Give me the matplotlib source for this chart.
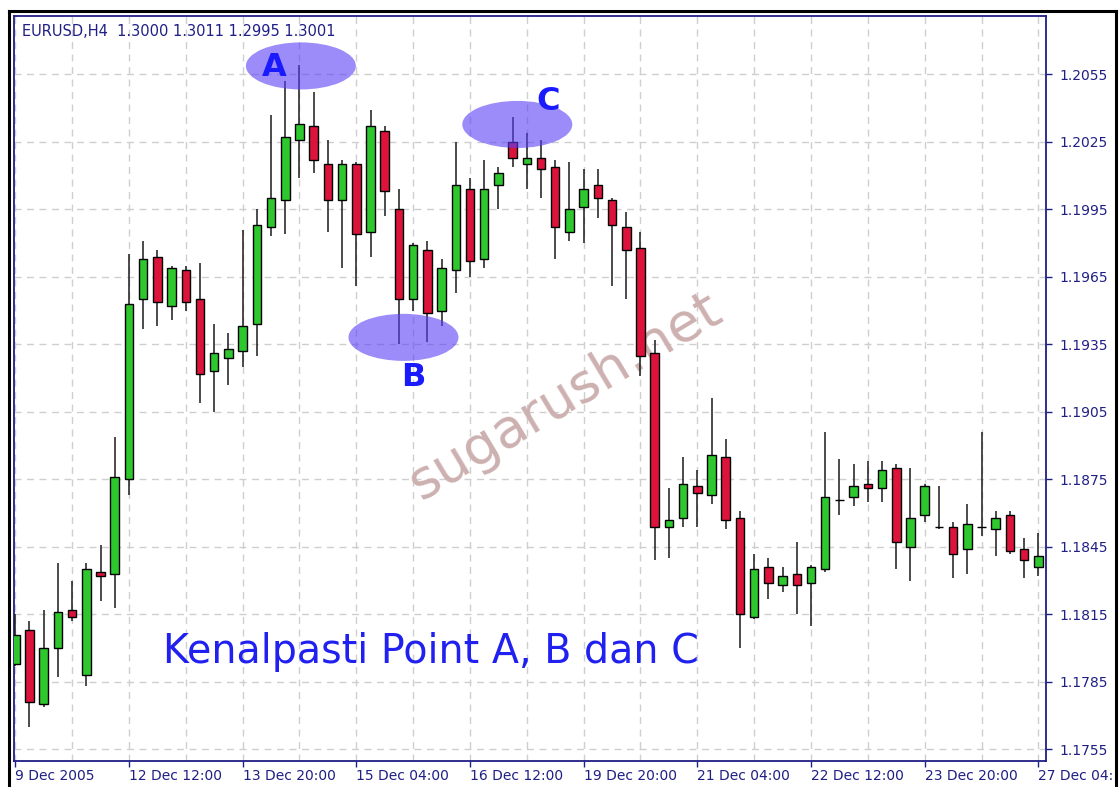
import numpy as np
import matplotlib.pyplot as plt
from matplotlib.patches import Ellipse
from matplotlib.lines import Line2D

# EURUSD H4 bars, 9 Dec - 27 Dec 2005
open_ = [1.1793, 1.1808, 1.1775, 1.1800, 1.1817, 1.1788, 1.1834, 1.1833, 1.1875, 1.1955,
         1.1974, 1.1952, 1.1968, 1.1955, 1.1923, 1.1929, 1.1932, 1.1944, 1.1987, 1.1999,
         1.2026, 1.2032, 1.2015, 1.1999, 1.2015, 1.1985, 1.2030, 1.1995, 1.1955, 1.1977,
         1.1950, 1.1968, 1.2004, 1.1973, 1.2006, 1.2025, 1.2015, 1.2018, 1.2014, 1.1985,
         1.1996, 1.2006, 1.1999, 1.1987, 1.1978, 1.1931, 1.1854, 1.1858, 1.1872, 1.1868,
         1.1885, 1.1858, 1.1814, 1.1836, 1.1828, 1.1833, 1.1829, 1.1835, 1.1866, 1.1867,
         1.1873, 1.1871, 1.1880, 1.1845, 1.1859, 1.1854, 1.1854, 1.1844, 1.1854, 1.1853,
         1.1859, 1.1844, 1.1836]
high = [1.1815, 1.1812, 1.1817, 1.1838, 1.1830, 1.1838, 1.1846, 1.1894, 1.1975, 1.1981,
        1.1977, 1.1970, 1.1970, 1.1971, 1.1944, 1.1940, 1.1986, 1.1995, 1.2037, 1.2052,
        1.2059, 1.2047, 1.2026, 1.2017, 1.2016, 1.2039, 1.2032, 1.2004, 1.1980, 1.1981,
        1.1973, 1.2025, 1.2009, 1.2017, 1.2014, 1.2036, 1.2029, 1.2026, 1.2017, 1.2016,
        1.2013, 1.2013, 1.2000, 1.1994, 1.1985, 1.1937, 1.1871, 1.1885, 1.1879, 1.1911,
        1.1893, 1.1861, 1.1842, 1.1840, 1.1836, 1.1847, 1.1837, 1.1896, 1.1884, 1.1882,
        1.1883, 1.1883, 1.1882, 1.1880, 1.1873, 1.1872, 1.1856, 1.1864, 1.1896, 1.1861,
        1.1861, 1.1849, 1.1851]
low = [1.1792, 1.1765, 1.1774, 1.1787, 1.1812, 1.1783, 1.1821, 1.1818, 1.1868, 1.1942,
       1.1943, 1.1946, 1.1950, 1.1909, 1.1905, 1.1917, 1.1925, 1.1930, 1.1983, 1.1984,
       1.2009, 1.2011, 1.1985, 1.1969, 1.1961, 1.1974, 1.1992, 1.1935, 1.1950, 1.1936,
       1.1943, 1.1958, 1.1965, 1.1969, 1.1995, 1.2014, 1.2004, 1.2000, 1.1973, 1.1981,
       1.1980, 1.1991, 1.1961, 1.1955, 1.1921, 1.1839, 1.1840, 1.1854, 1.1854, 1.1864,
       1.1853, 1.1800, 1.1813, 1.1822, 1.1825, 1.1815, 1.1810, 1.1834, 1.1859, 1.1863,
       1.1865, 1.1865, 1.1835, 1.1830, 1.1856, 1.1853, 1.1831, 1.1833, 1.1850, 1.1841,
       1.1842, 1.1831, 1.1832]
close = [1.1806, 1.1776, 1.1800, 1.1816, 1.1814, 1.1835, 1.1832, 1.1876, 1.1953, 1.1973,
         1.1954, 1.1969, 1.1954, 1.1922, 1.1931, 1.1933, 1.1943, 1.1988, 1.2000, 1.2027,
         1.2033, 1.2017, 1.1999, 1.2015, 1.1984, 1.2032, 1.2003, 1.1955, 1.1979, 1.1949,
         1.1969, 1.2006, 1.1972, 1.2004, 1.2011, 1.2018, 1.2018, 1.2013, 1.1987, 1.1995,
         1.2004, 1.2000, 1.1988, 1.1977, 1.1930, 1.1854, 1.1857, 1.1873, 1.1869, 1.1886,
         1.1857, 1.1815, 1.1835, 1.1829, 1.1832, 1.1828, 1.1836, 1.1867, 1.1866, 1.1872,
         1.1871, 1.1879, 1.1847, 1.1858, 1.1872, 1.1854, 1.1842, 1.1855, 1.1854, 1.1858,
         1.1843, 1.1839, 1.1841]

date_pos = [0, 8, 16, 24, 32, 40, 48, 56, 64, 72]
# last one is cut by the window edge in the screenshot
date_labels = ['9 Dec 2005', '12 Dec 12:00', '13 Dec 20:00', '15 Dec 04:00', '16 Dec 12:00',
               '19 Dec 20:00', '21 Dec 04:00', '22 Dec 12:00', '23 Dec 20:00', '27 Dec 04:']
price_ticks = [1.1755, 1.1785, 1.1815, 1.1845, 1.1875, 1.1905, 1.1935, 1.1965, 1.1995, 1.2025, 1.2055]

navy = '#1f1f85'
bull = '#2ec82e'
bear = '#dc143c'

fig = plt.figure(figsize=(11.2, 7.87), dpi=100)
ax = fig.add_axes([0.0125, 0.0334, 0.9212, 0.9466])

x = np.arange(len(open_))
o = np.array(open_)
h = np.array(high)
l = np.array(low)
c = np.array(close)
cols = np.where(c > o, bull, np.where(c < o, bear, 'black'))

# grid (every 4 bars / every price label)
for p in price_ticks:
    ax.axhline(p, color='#cfcfcf', lw=1, ls=(0, (5, 4)), zorder=0)
for i in range(0, len(x), 4):
    ax.axvline(i, color='#cfcfcf', lw=1, ls=(0, (5, 4)), zorder=0)

# watermark
ax.text(38.7, 1.1912, 'sugarush.net', rotation=31, rotation_mode='anchor', fontsize=39,
        color='#cdb0b0', ha='center', va='center', zorder=1)

# candles
ax.vlines(x, l, h, color='#1a1a1a', lw=1.1, zorder=3)
ax.bar(x, np.abs(c - o), bottom=np.minimum(o, c), width=0.6, color=cols,
       edgecolor='black', linewidth=1, zorder=4)

# marked points
fill = (88 / 255, 63 / 255, 247 / 255)
for cx, cy in [(20.1, 1.20587), (27.32, 1.19381), (35.33, 1.20327)]:
    ax.add_patch(Ellipse((cx, cy), 7.74, 0.00209, facecolor=fill, edgecolor='none',
                         alpha=0.6, zorder=5))
for tx, ty, s in [(18.24, 1.20543, 'A'), (28.02, 1.19163, 'B'), (37.52, 1.20391, 'C')]:
    ax.text(tx, ty, s, fontsize=23, fontweight='bold', color='#1a1aff',
            ha='center', va='baseline', zorder=6)

ax.text(10.39, 1.17936, 'Kenalpasti Point A, B dan C', fontsize=28.5, color='#2020f0',
        ha='left', va='baseline', zorder=6)

ax.set_xlim(-0.09, 72.52)
ax.set_ylim(1.1750, 1.2081)

ax.set_xticks(date_pos)
ax.set_xticklabels(date_labels, ha='left')
ax.set_yticks(price_ticks)
ax.set_yticklabels(['%.4f' % p for p in price_ticks])
ax.yaxis.tick_right()
ax.tick_params(axis='y', direction='out', length=4, width=1, color=navy,
               labelcolor=navy, labelsize=10, pad=6)
ax.tick_params(axis='x', direction='out', length=4, width=1, color=navy,
               labelcolor=navy, labelsize=10, pad=2)
for sp in ax.spines.values():
    sp.set_color(navy)
    sp.set_linewidth(1.3)

fig.text(22 / 1120, 1 - 31 / 787, 'EURUSD,H4  1.3000 1.3011 1.2995 1.3001', color=navy,
         fontsize=10.5, va='center', ha='left')

# outer window frame
fig.add_artist(Line2D([0.008, 0.008], [0, 0.986], color='black', lw=2.2))
fig.add_artist(Line2D([0.008, 0.9964], [0.986, 0.986], color='black', lw=2.2))
fig.add_artist(Line2D([0.9964, 0.9964], [0, 0.986], color='black', lw=2.2))

fig.savefig('out.png', dpi=100)
